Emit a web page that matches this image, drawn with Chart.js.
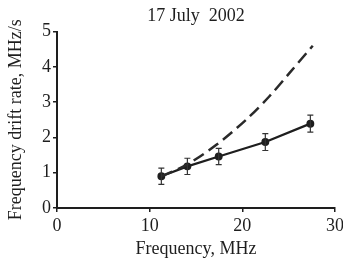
<!DOCTYPE html>
<html>
<head>
<meta charset="utf-8">
<script src="https://cdn.jsdelivr.net/npm/chart.js@4/dist/chart.umd.min.js"></script>
<style>
html,body{margin:0;padding:0;background:#fff;overflow:hidden;}
#wrap{width:343px;height:262px;position:relative;}
</style>
</head>
<body>
<div id="wrap"><canvas id="c" width="343" height="262"></canvas></div>
<script>
const titleText = "17 July  2002";
const xTitle = "Frequency, MHz";
const yTitle = "Frequency drift rate, MHz/s";
const xTicks = [0, 10, 20, 30];
const yTicks = [0, 1, 2, 3, 4, 5];

const measFreq = [11.26, 14.07, 17.45, 22.48, 27.34];
const measRate = [0.90, 1.18, 1.46, 1.87, 2.39];
const measErr = [0.23, 0.23, 0.23, 0.24, 0.24];

const modelFreq = [11.26, 13.96, 17.2, 20.4, 22.9, 25.1, 27.6];
const modelRate = [0.90, 1.22, 1.79, 2.5, 3.16, 3.83, 4.6];

const ink = '#1e1e1e';
const serif = "'Liberation Serif', 'DejaVu Serif', serif";

const errorBars = {
  id: 'errorBars',
  afterDatasetsDraw(chart) {
    const {ctx, scales: {x, y}} = chart;
    ctx.save();
    ctx.strokeStyle = '#333';
    ctx.lineWidth = 1.2;
    measFreq.forEach((f, i) => {
      const px = x.getPixelForValue(f);
      const top = y.getPixelForValue(measRate[i] + measErr[i]);
      const bot = y.getPixelForValue(measRate[i] - measErr[i]);
      ctx.beginPath();
      ctx.moveTo(px, top); ctx.lineTo(px, bot);
      ctx.moveTo(px - 3, top); ctx.lineTo(px + 3, top);
      ctx.moveTo(px - 3, bot); ctx.lineTo(px + 3, bot);
      ctx.stroke();
    });
    ctx.restore();
  }
};

new Chart(document.getElementById('c'), {
  type: 'scatter',
  data: {
    datasets: [
      {
        data: modelFreq.map((f, i) => ({x: f, y: modelRate[i]})),
        showLine: true,
        borderColor: '#2a2a2a',
        borderWidth: 2.5,
        borderDash: [12, 6],
        pointRadius: 0,
        tension: 0.3,
        fill: false
      },
      {
        data: measFreq.map((f, i) => ({x: f, y: measRate[i]})),
        showLine: true,
        borderColor: ink,
        borderWidth: 2.3,
        pointRadius: 2.8,
        pointBackgroundColor: ink,
        pointBorderColor: ink,
        tension: 0,
        fill: false
      }
    ]
  },
  options: {
    responsive: false,
    animation: false,
    layout: {padding: 0},
    plugins: {
      legend: {display: false},
      tooltip: {enabled: false},
      title: {
        display: true,
        fullSize: false,
        text: titleText,
        color: ink,
        font: {family: serif, size: 18, weight: 'normal'},
        padding: {top: 5, bottom: 5}
      }
    },
    scales: {
      x: {
        type: 'linear',
        min: 0, max: 30,
        afterBuildTicks(s) { s.ticks = xTicks.map(v => ({value: v})); },
        afterFit(s) { s.height = 54; s.paddingRight = 8; },
        border: {display: true, color: ink, width: 2},
        grid: {drawOnChartArea: false, drawTicks: true, tickLength: 4, color: ink, lineWidth: 1.5},
        ticks: {color: ink, font: {family: serif, size: 18}, padding: 3, maxRotation: 0},
        title: {display: true, text: xTitle, color: ink, font: {family: serif, size: 18}, padding: {top: 0, bottom: 2}}
      },
      y: {
        type: 'linear',
        min: 0, max: 5,
        afterBuildTicks(s) { s.ticks = yTicks.map(v => ({value: v})); },
        afterFit(s) { s.width = 57; },
        border: {display: true, color: ink, width: 2},
        grid: {drawOnChartArea: false, drawTicks: true, tickLength: 4, color: ink, lineWidth: 1.5},
        ticks: {color: ink, font: {family: serif, size: 18}, padding: 2},
        title: {display: true, text: yTitle, color: ink, font: {family: serif, size: 18}, padding: {top: 5, bottom: 0}}
      }
    }
  },
  plugins: [errorBars]
});
</script>
</body>
</html>
